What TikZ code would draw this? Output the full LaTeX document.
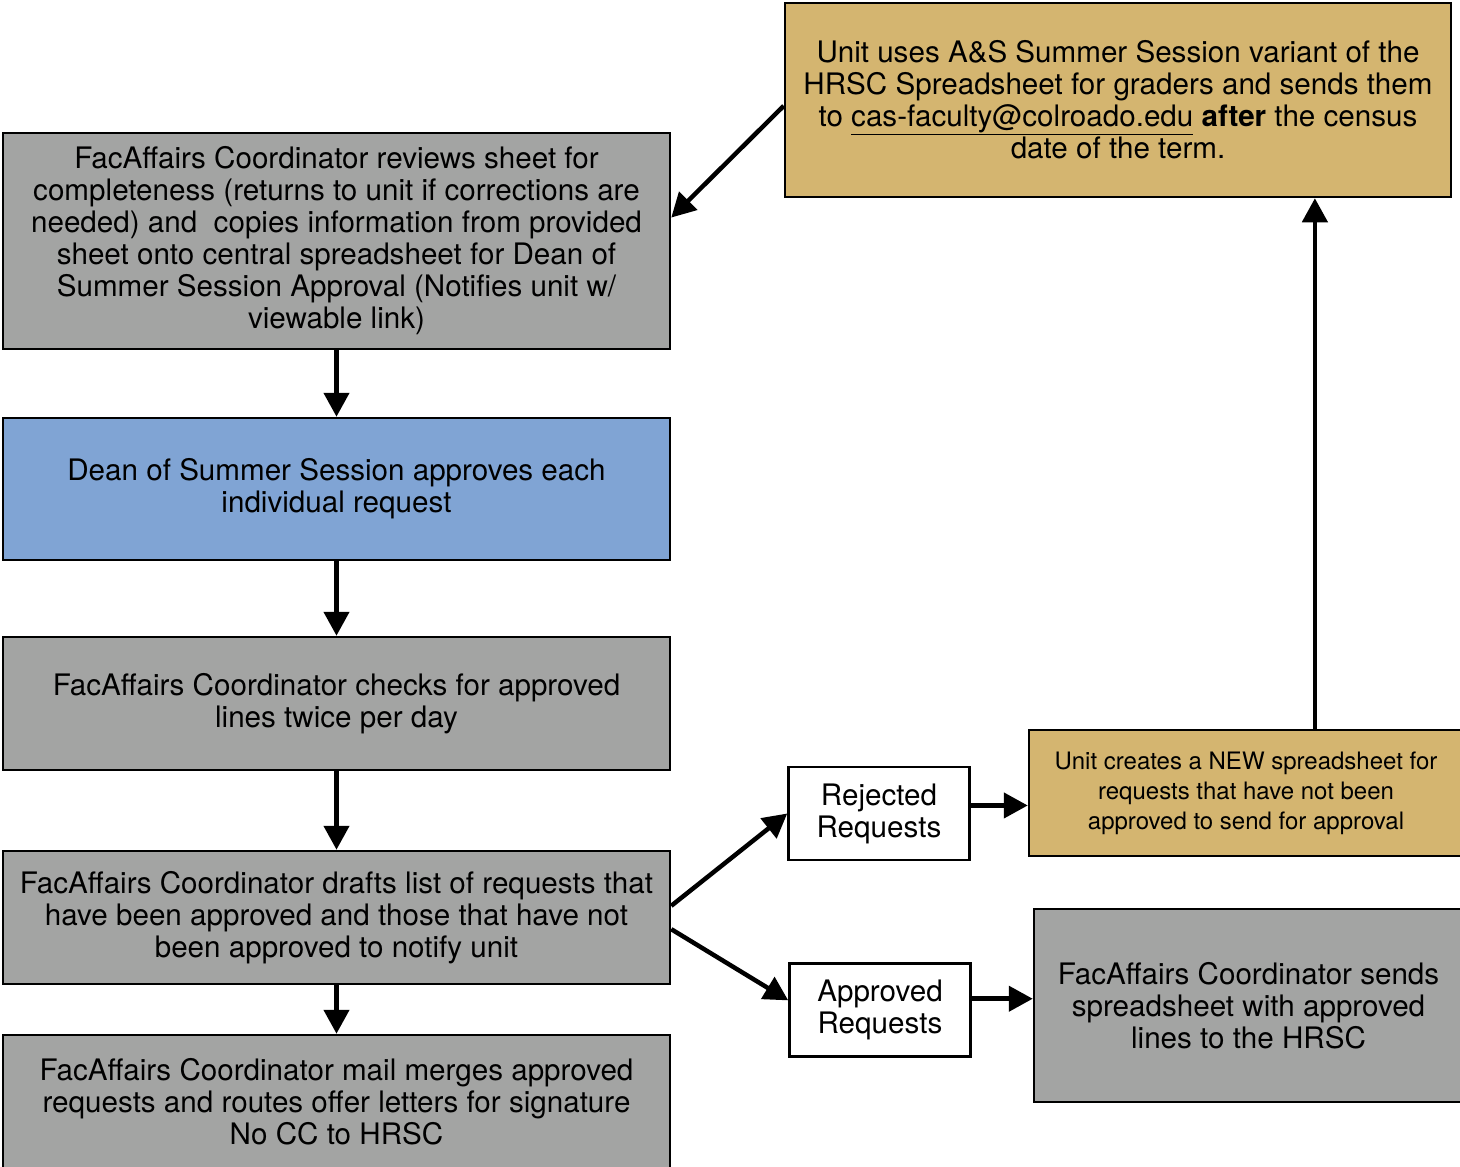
\documentclass[tikz,border=0pt]{standalone}
\usepackage{fontspec}
\setmainfont{TeX Gyre Heros}
\usepackage{tikz}
\usetikzlibrary{shapes}
\usetikzlibrary{arrows.meta}
\pgfdeclarelayer{edgelayer}
\pgfdeclarelayer{nodelayer}
\pgfsetlayers{edgelayer,nodelayer,main}
\definecolor{unitgold}{RGB}{212,181,112}
\definecolor{coordgray}{RGB}{163,164,163}
\definecolor{deanblue}{RGB}{128,164,212}
\tikzstyle{none}=[inner sep=0pt]
\tikzstyle{box}=[draw=black, line width=2.5pt, align=center, inner sep=0pt, font=\fontsize{29.6}{32}\selectfont]
\tikzstyle{unit box}=[box, fill=unitgold]
\tikzstyle{coord box}=[box, fill=coordgray]
\tikzstyle{dean box}=[box, fill=deanblue]
\tikzstyle{result box}=[box, fill=white]
\tikzstyle{flow}=[-{Triangle[length=24pt,width=25pt]}, line width=4.5pt]

\begin{document}
\begin{tikzpicture}[x=1pt, y=-1pt]
	\useasboundingbox (0, 0) rectangle (1460, 1167);
	\begin{pgfonlayer}{nodelayer}
		\node [style=unit box, minimum width=666, minimum height=194] (0) at (1118, 100) {Unit uses A\&S Summer Session variant of the\\HRSC Spreadsheet for graders and sends them\\to \underline{cas-faculty@colroado.edu} \textbf{after} the census\\date of the term.};
		\node [style=coord box, minimum width=667, minimum height=216] (1) at (336.5, 241) {FacAffairs Coordinator reviews sheet for\\completeness (returns to unit if corrections are\\needed) and\ \ copies information from provided\\sheet onto central spreadsheet for Dean of\\Summer Session Approval (Notifies unit w/\\viewable link)};
		\node [style=dean box, minimum width=667, minimum height=142] (2) at (336.5, 489) {Dean of Summer Session approves each\\individual request};
		\node [style=coord box, minimum width=667, minimum height=133] (3) at (336.5, 703.5) {FacAffairs Coordinator checks for approved\\lines twice per day};
		\node [style=coord box, minimum width=667, minimum height=133] (4) at (336.5, 917.5) {FacAffairs Coordinator drafts list of requests that\\have been approved and those that have not\\been approved to notify unit};
		\node [style=coord box, minimum width=667, minimum height=134] (5) at (336.5, 1102) {FacAffairs Coordinator mail merges approved\\requests and routes offer letters for signature\\No CC to HRSC};
		\node [style=result box, minimum width=181, minimum height=93] (6) at (879, 813.5) {Rejected\\Requests};
		\node [style=result box, minimum width=181, minimum height=93] (7) at (880, 1010) {Approved\\Requests};
		\node [style=unit box, minimum width=434, minimum height=126, font=\fontsize{24}{30}\selectfont] (8) at (1246, 793) {Unit creates a NEW spreadsheet for\\requests that have not been\\approved to send for approval};
		\node [style=coord box, minimum width=429, minimum height=193] (9) at (1248.5, 1005.5) {FacAffairs Coordinator sends\\spreadsheet with approved\\lines to the HRSC};
	\end{pgfonlayer}
	\begin{pgfonlayer}{edgelayer}
		\draw [style=flow] (0.181) to (1.4);
		\draw [style=flow] (1) to (2);
		\draw [style=flow] (2) to (3);
		\draw [style=flow] (3) to (4);
		\draw [style=flow] (4) to (5);
		\draw [style=flow] (4.2) to (6.west);
		\draw [style=flow] (4.-2) to (7.174);
		\draw [style=flow] (6.5) to (6.5 -| 8.west);
		\draw [style=flow] (7.7) to (7.7 -| 9.west);
		\draw [style=flow] (8.43) to (8.43 |- 0.south);
	\end{pgfonlayer}
\end{tikzpicture}
\end{document}
